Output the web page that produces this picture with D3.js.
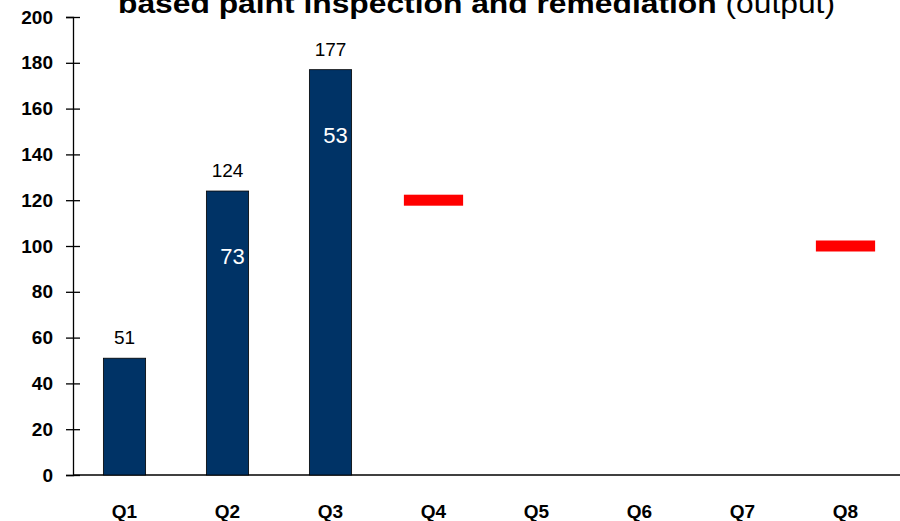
<!DOCTYPE html>
<html>
<head>
<meta charset="utf-8">
<script src="https://cdn.jsdelivr.net/npm/d3@7"></script>
<style>
  body { margin: 0; background: #fff; }
  text { font-family: Arial, "Liberation Sans", sans-serif; }
  .axis text { font-size: 19px; font-weight: bold; fill: #000; }
</style>
</head>
<body>
<div id="chart"></div>
<script>
var quarters = ["Q1", "Q2", "Q3", "Q4", "Q5", "Q6", "Q7", "Q8"];
var actual = [51, 124, 177, null, null, null, null, null];
var quarterly = [null, 73, 53, null, null, null, null, null];
var target = [null, null, null, 120, null, null, null, 100];
var yTicks = [0, 20, 40, 60, 80, 100, 120, 140, 160, 180, 200];

var width = 900, height = 521;
var margin = {top: 17, right: 3, bottom: 46, left: 73};

var svg = d3.select("#chart").append("svg")
    .attr("width", width)
    .attr("height", height);

var x = d3.scaleBand()
    .domain(quarters)
    .range([margin.left, width - margin.right])
    .paddingInner(0.59)
    .paddingOuter(0.295);

var y = d3.scaleLinear()
    .domain([0, 200])
    .range([height - margin.bottom, margin.top]);

// title (top line is cut off in the original)
var title = svg.append("text")
    .attr("x", 118)
    .attr("y", 13)
    .attr("textLength", 717)
    .attr("lengthAdjust", "spacingAndGlyphs")
    .style("font-size", "28px");
title.append("tspan").attr("font-weight", "bold").text("based paint inspection and remediation");
title.append("tspan").text(" (output)");

// y axis
var yAxis = svg.append("g")
    .attr("class", "axis")
    .attr("transform", "translate(" + margin.left + ",0)")
    .call(d3.axisLeft(y).tickValues(yTicks).tickSize(7).tickPadding(13));
yAxis.attr("font-size", 19).attr("font-weight", "bold").attr("font-family", null);
yAxis.select(".domain").attr("stroke", "#000").attr("stroke-width", 1.3);
yAxis.selectAll(".tick line").attr("x2", 7).attr("x1", -7).attr("stroke-width", 1.3);

// x axis
var xAxis = svg.append("g")
    .attr("class", "axis")
    .attr("transform", "translate(0," + y(0) + ")")
    .call(d3.axisBottom(x).tickSize(0).tickPadding(30));
xAxis.attr("font-size", 19).attr("font-weight", "bold").attr("font-family", null);
xAxis.select(".domain").attr("d", "M" + margin.left + ",0H" + width).attr("stroke", "#000").attr("stroke-width", 1.3);

var barData = quarters.map(function(q, i){ return {q: q, v: actual[i], inner: quarterly[i], t: target[i]}; });

// bars
svg.selectAll("rect.bar")
    .data(barData.filter(function(d){ return d.v != null; }))
    .enter().append("rect")
    .attr("class", "bar")
    .attr("x", function(d){ return x(d.q); })
    .attr("y", function(d){ return y(d.v); })
    .attr("width", x.bandwidth())
    .attr("height", function(d){ return y(0) - y(d.v); })
    .attr("fill", "#003366")
    .attr("stroke", "#000")
    .attr("stroke-width", 0.8);

// totals above bars
svg.selectAll("text.total")
    .data(barData.filter(function(d){ return d.v != null; }))
    .enter().append("text")
    .attr("class", "total")
    .attr("x", function(d){ return x(d.q) + x.bandwidth() / 2; })
    .attr("y", function(d){ return y(d.v) - 14; })
    .attr("text-anchor", "middle")
    .style("font-size", "19px")
    .attr("fill", "#000")
    .text(function(d){ return d.v; });

// quarterly values inside bars
svg.selectAll("text.inner")
    .data(barData.filter(function(d){ return d.inner != null; }))
    .enter().append("text")
    .attr("class", "inner")
    .attr("x", function(d){ return x(d.q) + x.bandwidth() / 2 + 5; })
    .attr("y", function(d){ return y(d.v) + 73; })
    .attr("text-anchor", "middle")
    .style("font-size", "22px")
    .attr("fill", "#fff")
    .text(function(d){ return d.inner; });

// targets
var tw = x.step() * 0.575;
svg.selectAll("rect.target")
    .data(barData.filter(function(d){ return d.t != null; }))
    .enter().append("rect")
    .attr("class", "target")
    .attr("x", function(d){ return x(d.q) + x.bandwidth() / 2 - tw / 2; })
    .attr("y", function(d){ return y(d.t) - 5.5; })
    .attr("width", tw)
    .attr("height", 11)
    .attr("fill", "#ff0000");
</script>
</body>
</html>
